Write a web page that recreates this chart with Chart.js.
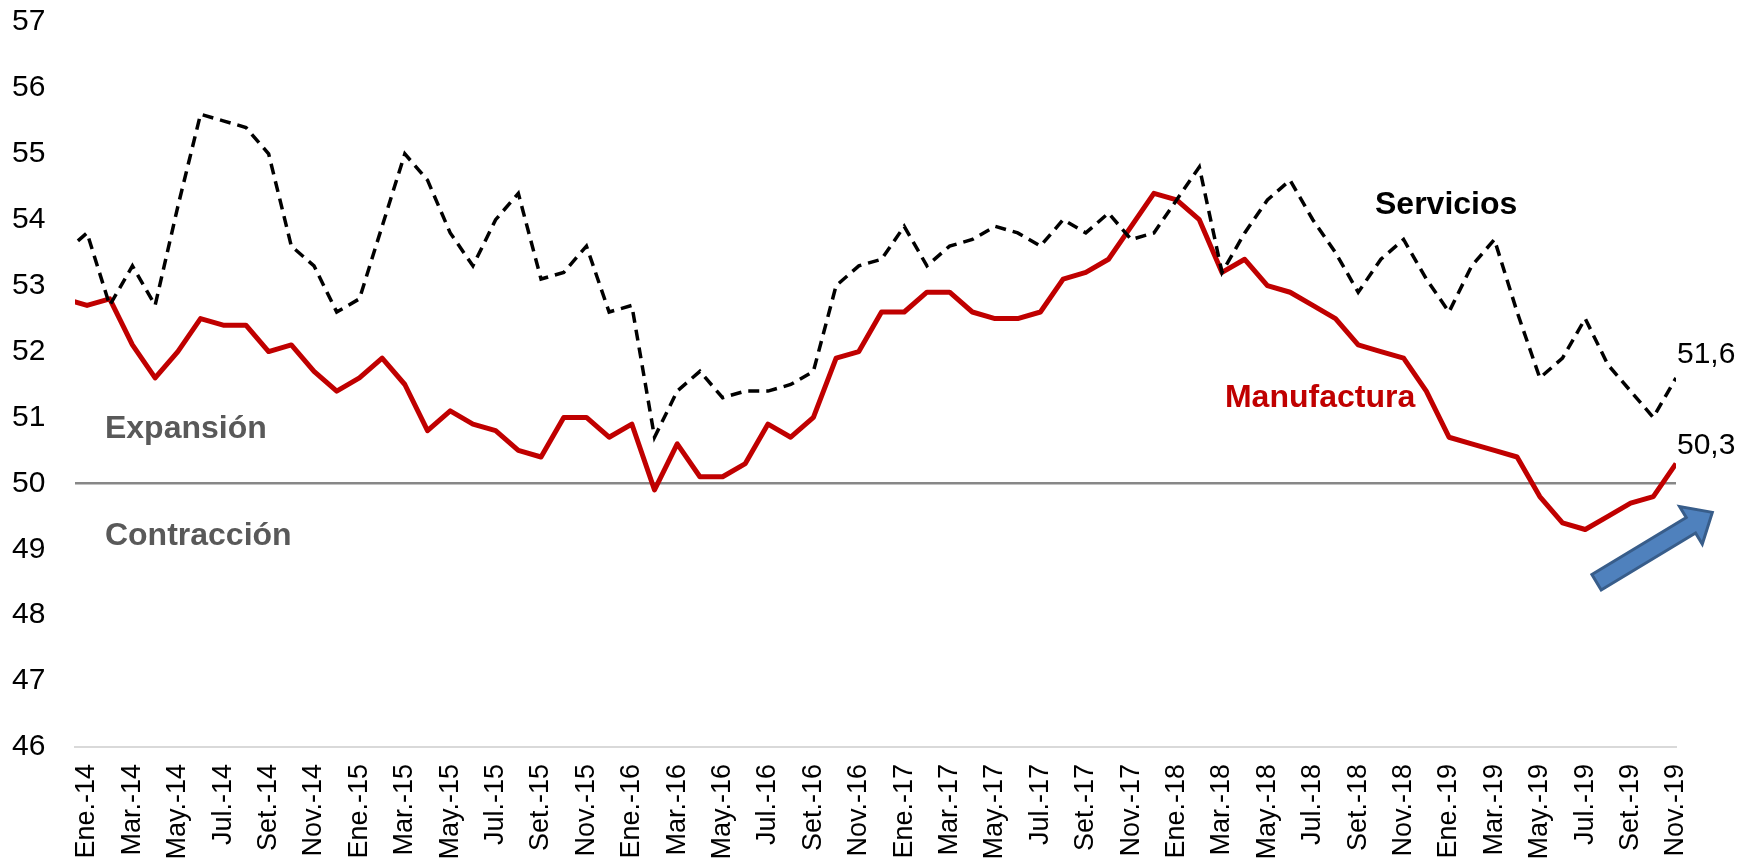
<!DOCTYPE html>
<html>
<head>
<meta charset="utf-8">
<script src="https://cdn.jsdelivr.net/npm/chart.js@4.4.0/dist/chart.umd.min.js"></script>
<style>
  body { margin: 0; background: #fff; }
  #wrap { width: 1752px; height: 865px; }
</style>
</head>
<body>
<div id="wrap"><canvas id="pmiChart"></canvas></div>
<script>
// PMI Servicios vs Manufactura, Dic-13 .. Nov-19 (first month only shows as a clipped stub)
const months = [
  'Dic.-13',
  'Ene.-14', 'Feb.-14', 'Mar.-14', 'Abr.-14', 'May.-14', 'Jun.-14', 'Jul.-14', 'Ago.-14', 'Set.-14', 'Oct.-14', 'Nov.-14', 'Dic.-14',
  'Ene.-15', 'Feb.-15', 'Mar.-15', 'Abr.-15', 'May.-15', 'Jun.-15', 'Jul.-15', 'Ago.-15', 'Set.-15', 'Oct.-15', 'Nov.-15', 'Dic.-15',
  'Ene.-16', 'Feb.-16', 'Mar.-16', 'Abr.-16', 'May.-16', 'Jun.-16', 'Jul.-16', 'Ago.-16', 'Set.-16', 'Oct.-16', 'Nov.-16', 'Dic.-16',
  'Ene.-17', 'Feb.-17', 'Mar.-17', 'Abr.-17', 'May.-17', 'Jun.-17', 'Jul.-17', 'Ago.-17', 'Set.-17', 'Oct.-17', 'Nov.-17', 'Dic.-17',
  'Ene.-18', 'Feb.-18', 'Mar.-18', 'Abr.-18', 'May.-18', 'Jun.-18', 'Jul.-18', 'Ago.-18', 'Set.-18', 'Oct.-18', 'Nov.-18', 'Dic.-18',
  'Ene.-19', 'Feb.-19', 'Mar.-19', 'Abr.-19', 'May.-19', 'Jun.-19', 'Jul.-19', 'Ago.-19', 'Set.-19', 'Oct.-19', 'Nov.-19'
];

const servicios = [
  53.5,
  53.8, 52.7, 53.3, 52.7, 54.2, 55.6, 55.5, 55.4, 55.0, 53.6, 53.3, 52.6,
  52.8, 53.9, 55.0, 54.6, 53.8, 53.3, 54.0, 54.4, 53.1, 53.2, 53.6, 52.6,
  52.7, 50.7, 51.4, 51.7, 51.3, 51.4, 51.4, 51.5, 51.7, 53.0, 53.3, 53.4,
  53.9, 53.3, 53.6, 53.7, 53.9, 53.8, 53.6, 54.0, 53.8, 54.1, 53.7, 53.8,
  54.3, 54.8, 53.2, 53.8, 54.3, 54.6, 54.0, 53.5, 52.9, 53.4, 53.7, 53.1,
  52.6, 53.3, 53.7, 52.6, 51.6, 51.9, 52.5, 51.8, 51.4, 51.0, 51.6
];

const manufactura = [
  52.8,
  52.7, 52.8, 52.1, 51.6, 52.0, 52.5, 52.4, 52.4, 52.0, 52.1, 51.7, 51.4,
  51.6, 51.9, 51.5, 50.8, 51.1, 50.9, 50.8, 50.5, 50.4, 51.0, 51.0, 50.7,
  50.9, 49.9, 50.6, 50.1, 50.1, 50.3, 50.9, 50.7, 51.0, 51.9, 52.0, 52.6,
  52.6, 52.9, 52.9, 52.6, 52.5, 52.5, 52.6, 53.1, 53.2, 53.4, 53.9, 54.4,
  54.3, 54.0, 53.2, 53.4, 53.0, 52.9, 52.7, 52.5, 52.1, 52.0, 51.9, 51.4,
  50.7, 50.6, 50.5, 50.4, 49.8, 49.4, 49.3, 49.5, 49.7, 49.8, 50.3
];

const yTicks = [46, 47, 48, 49, 50, 51, 52, 53, 54, 55, 56, 57];
// every other month gets a label, starting at Ene.-14 (x = 0)
const xTickIdx = [];
for (let i = 0; i < months.length - 1; i += 2) xTickIdx.push(i);

const FONT = 'Arial, "Liberation Sans", sans-serif';

function fmt(v) {
  return v.toFixed(1).replace('.', ',');
}

const notesPlugin = {
  id: 'notes',
  afterDatasetsDraw(chart) {
    const ctx = chart.ctx;
    const xs = chart.scales.x;
    const ys = chart.scales.y;
    ctx.save();
    ctx.textAlign = 'left';
    ctx.textBaseline = 'alphabetic';

    function note(text, xv, yv, font, color) {
      ctx.font = font;
      ctx.fillStyle = color;
      ctx.fillText(text, xs.getPixelForValue(xv), ys.getPixelForValue(yv));
    }
    note('Expansión', 0.79, 50.69, 'bold 32px ' + FONT, '#595959');
    note('Contracción', 0.79, 49.06, 'bold 32px ' + FONT, '#595959');
    note('Servicios', 56.74, 54.08, 'bold 32px ' + FONT, '#000000');
    note('Manufactura', 50.13, 51.16, 'bold 32px ' + FONT, '#c00000');

    // last values
    const last = servicios.length - 1;
    const lx = xs.getPixelForValue(last - 1) + 1;
    ctx.font = '30px ' + FONT;
    ctx.fillStyle = '#000000';
    ctx.fillText(fmt(servicios[last]), lx, ys.getPixelForValue(servicios[last]) - 15);
    ctx.fillText(fmt(manufactura[last]), lx, ys.getPixelForValue(manufactura[last]) - 10);

    // blue arrow
    const tx = xs.getPixelForValue(66.5), ty = ys.getPixelForValue(48.5);
    const px = xs.getPixelForValue(71.6), py = ys.getPixelForValue(49.56);
    const len = Math.hypot(px - tx, py - ty);
    const ang = Math.atan2(py - ty, px - tx);
    const head = 25, shaft = 9, hw = 22;
    ctx.translate(tx, ty);
    ctx.rotate(ang);
    ctx.beginPath();
    ctx.moveTo(0, -shaft);
    ctx.lineTo(len - head, -shaft);
    ctx.lineTo(len - head, -hw);
    ctx.lineTo(len, 0);
    ctx.lineTo(len - head, hw);
    ctx.lineTo(len - head, shaft);
    ctx.lineTo(0, shaft);
    ctx.closePath();
    ctx.fillStyle = '#4f81bd';
    ctx.fill();
    ctx.lineWidth = 3;
    ctx.lineJoin = 'miter';
    ctx.strokeStyle = '#385d8a';
    ctx.stroke();
    ctx.restore();
  }
};

new Chart(document.getElementById('pmiChart'), {
  type: 'line',
  data: {
    datasets: [
      {
        label: 'Servicios',
        data: servicios.map((v, i) => ({ x: i - 1, y: v })),
        borderColor: '#000000',
        borderWidth: 3.5,
        borderDash: [11, 7],
        pointRadius: 0,
        tension: 0,
        fill: false
      },
      {
        label: 'Manufactura',
        data: manufactura.map((v, i) => ({ x: i - 1, y: v })),
        borderColor: '#c00000',
        borderWidth: 5,
        borderJoinStyle: 'round',
        pointRadius: 0,
        tension: 0,
        fill: false
      }
    ]
  },
  options: {
    responsive: true,
    maintainAspectRatio: false,
    animation: false,
    layout: { padding: { left: 12, right: 76, top: 22, bottom: 0 } },
    plugins: {
      legend: { display: false },
      tooltip: { enabled: false }
    },
    scales: {
      x: {
        type: 'linear',
        min: -0.53,
        max: 70,
        grid: { display: false, drawTicks: false },
        border: { display: true, color: '#d9d9d9', width: 2 },
        afterBuildTicks: axis => { axis.ticks = xTickIdx.map(v => ({ value: v })); },
        afterFit: axis => { axis.height = 118; },
        ticks: {
          autoSkip: false,
          minRotation: 90,
          maxRotation: 90,
          padding: 17,
          color: '#000000',
          font: { family: FONT, size: 27 },
          callback: v => months[v + 1]
        }
      },
      y: {
        min: yTicks[0],
        max: yTicks[yTicks.length - 1],
        afterFit: axis => { axis.width = 63; },
        ticks: {
          stepSize: 1,
          crossAlign: 'far',
          padding: 0,
          color: '#000000',
          font: { family: FONT, size: 30 }
        },
        grid: {
          drawTicks: false,
          color: c => c.tick.value === 50 ? '#878787' : 'rgba(0,0,0,0)',
          lineWidth: c => c.tick.value === 50 ? 2.5 : 0
        },
        border: { display: false }
      }
    }
  },
  plugins: [notesPlugin]
});
</script>
</body>
</html>
